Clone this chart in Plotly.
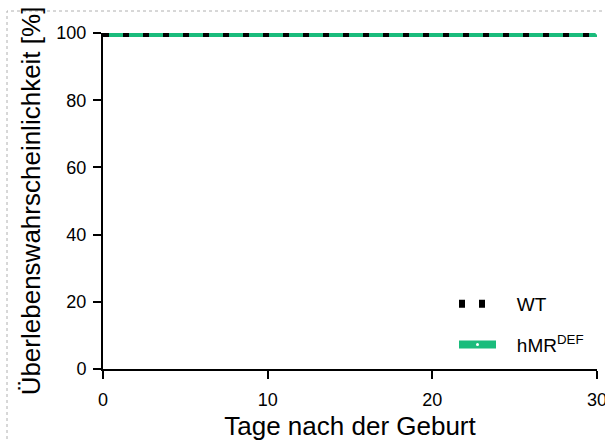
import plotly.graph_objects as go

# Survival data (days after birth vs. survival probability in %)
days_wt = [0, 30]
surv_wt = [100, 100]
days_hmr = [0, 30]
surv_hmr = [100, 100]

x_ticks = [0, 10, 20, 30]
y_ticks = [0, 20, 40, 60, 80, 100]

GREEN = "#1abc7c"
FONT = "Liberation Sans, Arial, Helvetica, sans-serif"

fig = go.Figure()

# hMR-DEF: thick green line (drawn first so the WT dots sit on top)
fig.add_trace(go.Scatter(
    x=days_hmr, y=surv_hmr, mode="lines+markers",
    name="&nbsp;&nbsp;&nbsp;hMR<sup>DEF</sup>", legendgroup="hmr",
    legendrank=2,
    line=dict(color=GREEN, width=8),
    marker=dict(color="white", size=3),
))

# WT: black dotted line
fig.add_trace(go.Scatter(
    x=days_wt, y=surv_wt, mode="lines",
    name="&nbsp;&nbsp;&nbsp;WT", legendgroup="wt",
    legendrank=1,
    line=dict(color="black", width=8, dash="6px,14px"),
))

W, H = 605, 441
L, R, T, B = 103, 8, 33, 72
pw, ph = W - L - R, H - T - B

def px_x(p):
    return (p - L) / pw

def px_y(p):
    return (H - B - p) / ph

axis_common = dict(
    showgrid=False, zeroline=False, showline=True, automargin=False,
    linecolor="black", linewidth=2,
    ticks="outside", ticklen=8, tickwidth=2, tickcolor="black",
    tickfont=dict(family=FONT, size=18, color="black"),
)

fig.update_layout(
    width=W, height=H,
    margin=dict(l=L, r=R, t=T, b=B, pad=0, autoexpand=False),
    paper_bgcolor="white", plot_bgcolor="white",
    font=dict(family=FONT, color="black"),
    showlegend=True,
    legend=dict(
        x=px_x(454), y=px_y(285), xanchor="left", yanchor="top",
        bgcolor="rgba(0,0,0,0)", borderwidth=0,
        font=dict(family=FONT, size=19, color="black"),
        traceorder="grouped", tracegroupgap=13,
        itemwidth=37,
    ),
    xaxis=dict(
        range=[0, 30], tickvals=x_ticks, ticklabeloverflow="allow",
        ticklabelstandoff=5,
        title=dict(text="Tage nach der Geburt",
                   font=dict(family=FONT, size=26, color="black"), standoff=19),
        **axis_common,
    ),
    yaxis=dict(
        range=[0, 100], tickvals=y_ticks, ticklabelstandoff=3,
        title=dict(text="Überlebenswahrscheinlichkeit [%]",
                   font=dict(family=FONT, size=26, color="black"), standoff=8),
        **axis_common,
    ),
    shapes=[
        # page frame
        dict(
            type="rect", xref="paper", yref="paper",
            x0=px_x(7), x1=px_x(640), y0=px_y(480), y1=px_y(11),
            line=dict(color="#b0b0b0", width=1, dash="dot"),
            fillcolor="rgba(0,0,0,0)", layer="below",
        ),
        # mask above the top of the plotting area (lines end at 100 %)
        dict(
            type="rect", xref="paper", yref="paper",
            x0=px_x(105), x1=px_x(604), y0=1.0, y1=px_y(20),
            line=dict(width=0), fillcolor="white", layer="above",
        ),
    ],
)

fig.write_html("out.html")
